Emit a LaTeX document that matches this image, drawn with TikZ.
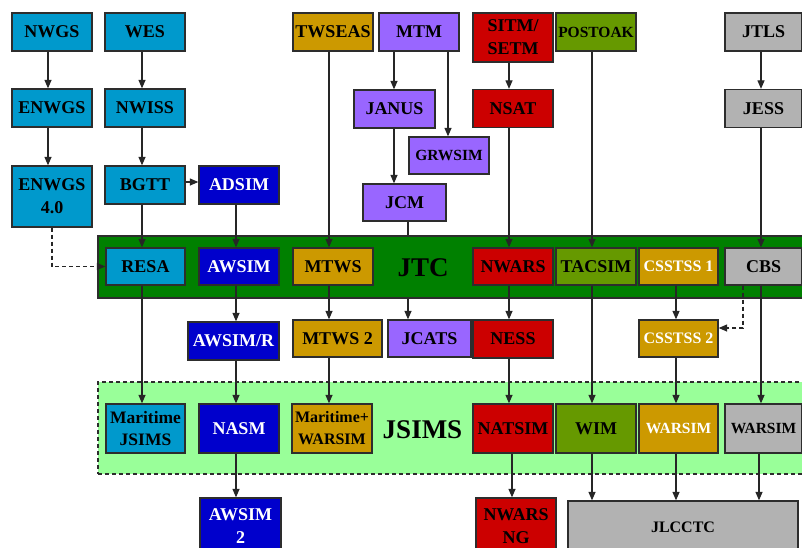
\documentclass[tikz,border=0pt]{standalone}
\usepackage{fontspec}
\setmainfont{Liberation Serif}
\usetikzlibrary{arrows.meta,calc}
\pgfdeclarelayer{back}
\pgfdeclarelayer{mid}
\pgfsetlayers{back,mid,main}
\definecolor{cyanb}{RGB}{0,153,204}
\definecolor{darkb}{RGB}{0,0,204}
\definecolor{goldb}{RGB}{204,153,0}
\definecolor{purpb}{RGB}{153,102,255}
\definecolor{redb}{RGB}{204,0,0}
\definecolor{olivb}{RGB}{102,153,0}
\definecolor{grayb}{RGB}{178,178,178}
\definecolor{jtcg}{RGB}{0,128,0}
\definecolor{jsimsg}{RGB}{153,255,153}
\definecolor{bdr}{RGB}{45,45,45}
\begin{document}
\begin{tikzpicture}[x=1pt,y=-1pt,
  box/.style={draw=bdr, line width=1.3pt, inner sep=0pt, minimum width=80pt, minimum height=38pt,
    align=center, text=black, font=\bfseries\fontsize{18}{23}\selectfont},
  smallt/.style={font=\bfseries\fontsize{15.5}{20}\selectfont},
  wt/.style={text=white},
  arr/.style={draw=black!85, line width=1.2pt, -{Triangle[length=8.5pt,width=7pt]}},
  darr/.style={arr, dash pattern=on 4pt off 3pt},
  bigt/.style={font=\bfseries\fontsize{27}{30}\selectfont, text=black, inner sep=0pt}]
\useasboundingbox (0,0) rectangle (802,547);
\begin{pgfonlayer}{back}
\fill[white] (0,0) rectangle (802,547);
\end{pgfonlayer}
% containers
\begin{pgfonlayer}{mid}
\node[draw=bdr, line width=1.3pt, fill=jtcg, minimum width=714pt, minimum height=62pt, inner sep=0pt] (JTCbox) at (455,267) {};
\node[draw=bdr, line width=1.3pt, fill=jsimsg, dash pattern=on 4pt off 3pt, minimum width=714pt, minimum height=92pt, inner sep=0pt] (JSIMSbox) at (455,428) {};
\end{pgfonlayer}
\node[bigt] (JTC) at (423,268) {JTC};
\node[bigt] (JSIMS) at (422.5,430) {JSIMS};
% column coordinates
\coordinate (ca) at (48,0);
\coordinate (cd) at (52,0);
\coordinate (c1) at (142,0);
\coordinate (c2) at (236,0);
\coordinate (c3) at (329,0);
\coordinate (cj) at (394,0);
\coordinate (cg) at (448,0);
\coordinate (ck) at (408,0);
\coordinate (c5) at (509,0);
\coordinate (c5b) at (512,0);
\coordinate (c6) at (592,0);
\coordinate (c7) at (676,0);
\coordinate (c8) at (761,0);
\coordinate (c8b) at (759,0);
\coordinate (cx) at (743,0);
% row 0
\node[box, fill=cyanb] (NWGS) at (52,32) {NWGS};
\node[box, fill=cyanb] (WES) at (145,32) {WES};
\node[box, fill=goldb] (TWSEAS) at (333,32) {TWSEAS};
\node[box, fill=purpb] (MTM) at (419,32) {MTM};
\node[box, fill=redb, minimum height=49pt] (SITM) at (513,37.5) {SITM/\\SETM};
\node[box, fill=olivb, smallt] (POSTOAK) at (596,32) {POSTOAK};
\node[box, fill=grayb, minimum width=77pt] (JTLS) at (763.5,32) {JTLS};
% row 1
\node[box, fill=cyanb] (ENWGS) at (52,108) {ENWGS};
\node[box, fill=cyanb] (NWISS) at (145,108) {NWISS};
\node[box, fill=purpb, minimum width=81pt] (JANUS) at (394.5,109) {JANUS};
\node[box, fill=redb] (NSAT) at (513,108.5) {NSAT};
\node[box, fill=grayb, minimum width=77pt] (JESS) at (763.5,108.5) {JESS};
\node[box, fill=purpb, smallt, minimum height=37pt] (GRWSIM) at (449,155.5) {GRWSIM};
% row 2
\node[box, fill=cyanb, minimum height=61pt] (ENWGS4) at (52,196.5) {ENWGS\\4.0};
\node[box, fill=cyanb] (BGTT) at (145,185) {BGTT};
\node[box, fill=darkb, wt] (ADSIM) at (239,185) {ADSIM};
\node[box, fill=purpb, minimum width=83pt, minimum height=37pt] (JCM) at (404.5,202.5) {JCM};
% JTC row
\node[box, fill=cyanb, minimum width=79pt, minimum height=37pt] (RESA) at (145.5,266.5) {RESA};
\node[box, fill=darkb, wt, minimum height=37pt] (AWSIM) at (239,266.5) {AWSIM};
\node[box, fill=goldb, minimum height=37pt] (MTWS) at (333,266.5) {MTWS};
\node[box, fill=redb, minimum height=37pt] (NWARS) at (513,266.5) {NWARS};
\node[box, fill=olivb, minimum height=37pt] (TACSIM) at (596,266.5) {TACSIM};
\node[box, fill=goldb, wt, minimum width=79pt, minimum height=37pt, font=\bfseries\fontsize{16}{20}\selectfont] (CSSTSS1) at (678.5,266.5) {CSSTSS 1};
\node[box, fill=grayb, minimum width=77pt, minimum height=37pt] (CBS) at (763.5,266.5) {CBS};
% row 3
\node[box, fill=darkb, wt, minimum width=91pt] (AWSIMR) at (233.5,341) {AWSIM/R};
\node[box, fill=goldb, minimum width=89pt, minimum height=37pt] (MTWS2) at (337.5,338.5) {MTWS 2};
\node[box, fill=purpb, minimum width=83pt, minimum height=37pt] (JCATS) at (429.5,338.5) {JCATS};
\node[box, fill=redb] (NESS) at (513,339) {NESS};
\node[box, fill=goldb, wt, minimum width=79pt, minimum height=37pt, font=\bfseries\fontsize{16}{20}\selectfont] (CSSTSS2) at (678.5,338.5) {CSSTSS 2};
% JSIMS row
\node[box, fill=cyanb, minimum width=79pt, minimum height=49pt, font=\bfseries\fontsize{17.5}{22}\selectfont] (MJSIMS) at (145.5,428.5) {Maritime\\JSIMS};
\node[box, fill=darkb, wt, minimum height=49pt] (NASM) at (239,428.5) {NASM};
\node[box, fill=goldb, minimum height=49pt, font=\bfseries\fontsize{16}{22}\selectfont] (MWARSIM) at (332,428.5) {Maritime+\\WARSIM};
\node[box, fill=redb, minimum height=49pt] (NATSIM) at (513,428.5) {NATSIM};
\node[box, fill=olivb, minimum height=49pt] (WIM) at (596,428.5) {WIM};
\node[box, fill=goldb, wt, smallt, minimum width=79pt, minimum height=49pt] (WARSIMg) at (678.5,428.5) {WARSIM};
\node[box, fill=grayb, smallt, minimum width=77pt, minimum height=49pt] (WARSIMc) at (763.5,428.5) {WARSIM};
% bottom
\node[box, fill=darkb, wt, minimum width=81pt, minimum height=56pt] (AWSIM2) at (240.5,526) {AWSIM\\2};
\node[box, fill=redb, minimum height=56pt] (NWARSNG) at (516,526) {NWARS\\NG};
\node[box, fill=grayb, minimum width=230pt, minimum height=52pt, font=\bfseries\fontsize{16}{20}\selectfont] (JLCCTC) at (683,527) {JLCCTC};
% connector hidden behind JTC
\begin{pgfonlayer}{back}
\draw[arr] (JCM.south -| ck) -- (JCATS.north -| ck);
\end{pgfonlayer}
% connectors
\draw[arr] (NWGS.south -| ca) -- (ENWGS.north -| ca);
\draw[arr] (ENWGS.south -| ca) -- (ENWGS4.north -| ca);
\draw[arr] (WES.south -| c1) -- (NWISS.north -| c1);
\draw[arr] (NWISS.south -| c1) -- (BGTT.north -| c1);
\draw[arr] (BGTT.east |- 0,182) -- (ADSIM.west |- 0,182);
\draw[arr] (BGTT.south -| c1) -- (RESA.north -| c1);
\draw[arr] (ADSIM.south -| c2) -- (AWSIM.north -| c2);
\draw[arr] (TWSEAS.south -| c3) -- (MTWS.north -| c3);
\draw[arr] (MTM.south -| cj) -- (JANUS.north -| cj);
\draw[arr] (MTM.south -| cg) -- (GRWSIM.north -| cg);
\draw[arr] (JANUS.south -| cj) -- (JCM.north -| cj);
\draw[arr] (SITM.south -| c5) -- (NSAT.north -| c5);
\draw[arr] (NSAT.south -| c5) -- (NWARS.north -| c5);
\draw[arr] (POSTOAK.south -| c6) -- (TACSIM.north -| c6);
\draw[arr] (JTLS.south -| c8) -- (JESS.north -| c8);
\draw[arr] (JESS.south -| c8) -- (CBS.north -| c8);
\draw[darr] (ENWGS4.south -| cd) |- (RESA.west);
\draw[arr] (AWSIM.south -| c2) -- (AWSIMR.north -| c2);
\draw[arr] (MTWS.south -| c3) -- (MTWS2.north -| c3);
\draw[arr] (NWARS.south -| c5) -- (NESS.north -| c5);
\draw[arr] (CSSTSS1.south -| c7) -- (CSSTSS2.north -| c7);
\draw[darr] (CBS.south -| cx) |- (CSSTSS2.east |- 0,328);
\draw[arr] (RESA.south -| c1) -- (MJSIMS.north -| c1);
\draw[arr] (AWSIMR.south -| c2) -- (NASM.north -| c2);
\draw[arr] (MTWS2.south -| c3) -- (MWARSIM.north -| c3);
\draw[arr] (NESS.south -| c5) -- (NATSIM.north -| c5);
\draw[arr] (TACSIM.south -| c6) -- (WIM.north -| c6);
\draw[arr] (CSSTSS2.south -| c7) -- (WARSIMg.north -| c7);
\draw[arr] (CBS.south -| c8) -- (WARSIMc.north -| c8);
\draw[arr] (NASM.south -| c2) -- (AWSIM2.north -| c2);
\draw[arr] (NATSIM.south -| c5b) -- (NWARSNG.north -| c5b);
\draw[arr] (WIM.south -| c6) -- (JLCCTC.north -| c6);
\draw[arr] (WARSIMg.south -| c7) -- (JLCCTC.north -| c7);
\draw[arr] (WARSIMc.south -| c8b) -- (JLCCTC.north -| c8b);
\end{tikzpicture}
\end{document}
